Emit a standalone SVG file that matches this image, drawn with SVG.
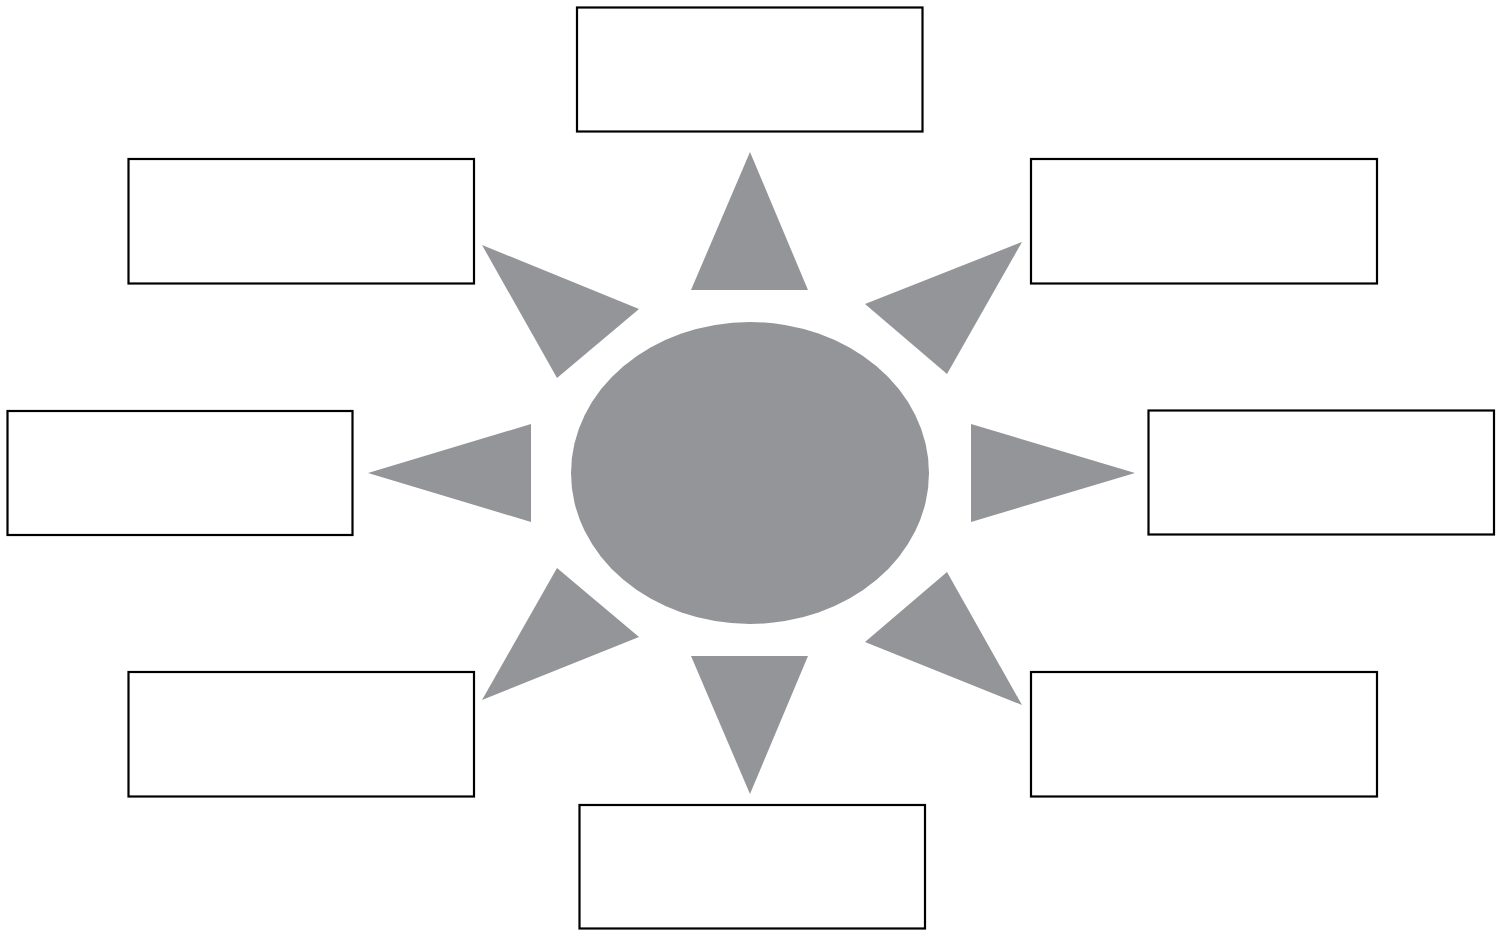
<svg xmlns="http://www.w3.org/2000/svg" width="1502" height="930" viewBox="0 0 1502 930">
<style>
.box{fill:#fff;stroke:#000;stroke-width:2.2}
.ray{fill:#939598}
</style>
<rect width="1502" height="930" fill="#fff"/>
<g id="center"><ellipse class="ray" cx="750" cy="473" rx="179" ry="151"/></g>
<g id="connectors">
<polygon class="ray" points="750,152 691,290 808,290"/>
<polygon class="ray" points="691,656 808,656 750,794"/>
<polygon class="ray" points="368,473 531,424 531,522"/>
<polygon class="ray" points="971,424 971,522 1135,473"/>
<polygon class="ray" points="482,245 639,309 557,378"/>
<polygon class="ray" points="1022,242 865,304 947,374"/>
<polygon class="ray" points="557,568 639,637 482,700"/>
<polygon class="ray" points="947,572 865,642 1022,705"/>
</g>
<g id="box-top"><rect class="box" x="577" y="7.5" width="345.5" height="124"/></g>
<g id="box-top-left"><rect class="box" x="128.5" y="159" width="345.5" height="124.5"/></g>
<g id="box-top-right"><rect class="box" x="1031" y="159" width="346" height="124.5"/></g>
<g id="box-left"><rect class="box" x="7.5" y="411" width="345" height="124"/></g>
<g id="box-right"><rect class="box" x="1148.5" y="410.5" width="345.5" height="124"/></g>
<g id="box-bottom-left"><rect class="box" x="128.5" y="672" width="345.5" height="124.5"/></g>
<g id="box-bottom-right"><rect class="box" x="1031" y="672" width="346" height="124.5"/></g>
<g id="box-bottom"><rect class="box" x="579.5" y="805" width="345.5" height="123.5"/></g>
</svg>
